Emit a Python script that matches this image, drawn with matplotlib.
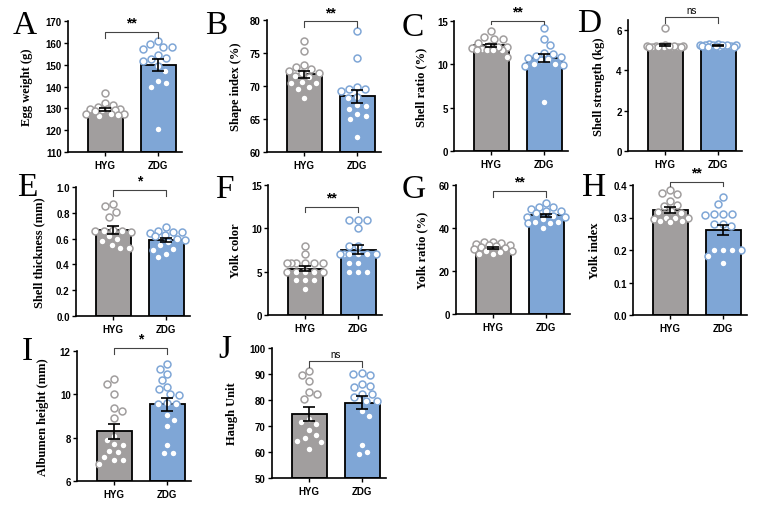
import numpy as np
import matplotlib
matplotlib.use('Agg')
import matplotlib.pyplot as plt
from matplotlib.ticker import FormatStrFormatter

groups = ["HYG", "ZDG"]

# individual eggs
hyg_egg_weight = [137, 132.5, 131.5, 130.5, 129.5, 129.5, 129.8, 129.3, 129.2, 127.5, 127.2, 127.6, 127, 126.3, 129]
zdg_egg_weight = [120.5, 140, 141.5, 142.5, 147, 149.5, 151.5, 152.5, 153, 154.5, 157, 158, 158, 159.5, 161]
hyg_shape_index = [76.8, 75.3, 73.2, 72.9, 72.5, 72.2, 72.0, 71.9, 71.5, 71.3, 70.6, 70.5, 70.4, 69.8, 69.5, 68.2]
zdg_shape_index = [78.4, 74.2, 69.9, 69.6, 69.5, 69.2, 68.4, 68.2, 67.1, 67.0, 66.5, 65.7, 65.5, 65.0, 62.3]
hyg_shell_ratio = [13.8, 13.2, 12.9, 12.9, 12.5, 12.0, 11.8, 11.7, 12.1, 12.0, 11.9, 11.7, 11.6, 11.7, 10.9]
zdg_shell_ratio = [14.2, 12.9, 12.2, 11.3, 11.2, 11.0, 10.9, 10.7, 10.6, 10.5, 10.0, 10.0, 9.9, 9.8, 5.7]
hyg_shell_strength = [6.1, 5.25, 5.22, 5.2, 5.2, 5.18, 5.18, 5.17, 5.15, 5.15, 5.2, 5.22, 5.19, 5.16, 5.18]
zdg_shell_strength = [5.3, 5.3, 5.28, 5.27, 5.25, 5.25, 5.22, 5.2, 5.2, 5.18, 5.17, 5.15, 5.28, 5.24, 5.21]
hyg_shell_thickness = [0.87, 0.85, 0.81, 0.77, 0.67, 0.66, 0.66, 0.66, 0.65, 0.62, 0.60, 0.58, 0.55, 0.53, 0.53]
zdg_shell_thickness = [0.69, 0.66, 0.65, 0.65, 0.64, 0.63, 0.62, 0.60, 0.59, 0.57, 0.55, 0.52, 0.51, 0.48, 0.46]
hyg_yolk_color = [8, 7, 6, 6, 6, 6, 6, 6, 5, 5, 5, 5, 5, 4, 4, 4, 3]
zdg_yolk_color = [11, 11, 11, 10, 8, 8, 7, 7, 7, 7, 7, 7, 6, 6, 5, 5, 5]
hyg_yolk_ratio = [33.6, 33.3, 32.8, 32.5, 32.2, 31.9, 31.5, 31.2, 30.8, 30.2, 29.5, 29.2, 29.0, 28.0, 27.8]
zdg_yolk_ratio = [51.8, 49.8, 49.6, 48.7, 48.0, 47.8, 47.2, 45.5, 45.3, 45.0, 44.2, 43.0, 42.6, 42.4, 42.2, 40.2]
hyg_yolk_index = [0.385, 0.375, 0.372, 0.352, 0.338, 0.335, 0.32, 0.318, 0.315, 0.30, 0.30, 0.298, 0.296, 0.29, 0.288, 0.286]
zdg_yolk_index = [0.362, 0.342, 0.31, 0.31, 0.31, 0.308, 0.28, 0.28, 0.275, 0.2, 0.2, 0.2, 0.2, 0.183, 0.16]
hyg_albumen = [10.7, 10.5, 10.0, 9.35, 9.25, 8.9, 8.1, 7.9, 7.7, 7.65, 7.4, 7.35, 7.1, 6.95, 6.95, 6.8]
zdg_albumen = [11.4, 11.15, 10.95, 10.65, 10.35, 10.25, 10.0, 9.95, 9.6, 9.55, 9.55, 9.05, 8.8, 8.55, 7.65, 7.3, 7.3]
hyg_haugh = [91.2, 89.5, 87.3, 83.1, 82.4, 80.5, 72.8, 71.5, 70.9, 68.3, 66.4, 65.4, 64.2, 63.8, 61.3]
zdg_haugh = [90.4, 89.7, 90.1, 86, 85, 85.3, 82.2, 82.4, 81.2, 79.6, 79.6, 75.8, 73.8, 62.6, 60, 59.1]

letters = ["A", "B", "C", "D", "E", "F", "G", "H", "I", "J"]
ylabels = ["Egg weight (g)", "Shape index (%)", "Shell ratio (%)", "Shell strength (kg)",
           "Shell thickness (mm)", "Yolk color", "Yolk ratio (%)", "Yolk index",
           "Albumen height (mm)", "Haugh Unit"]
signif = ["**", "**", "**", "ns", "*", "**", "**", "**", "*", "ns"]

GREY = "#a19e9e"
BLUE = "#7fa6d6"

# layout in pixels: (left, top, bottom, ylabel offset, letter x, letter y)
W, H = 767, 506
panels = [
    (hyg_egg_weight, zdg_egg_weight, (110, 170), np.arange(110, 171, 10), "%d", (165, 162), (68, 22, 153, 35, 13, 10)),
    (hyg_shape_index, zdg_shape_index, (60, 80), np.arange(60, 81, 5), "%d", (79.8, 78.9), (267, 21, 153, 25, 205, 10)),
    (hyg_shell_ratio, zdg_shell_ratio, (0, 15), [0, 5, 10, 15], "%d", (15.0, 14.6), (454, 22, 152, 27, 402, 12)),
    (hyg_shell_strength, zdg_shell_strength, (0, 6.5), [0, 2, 4, 6], "%d", (6.65, 6.35), (628, 21, 152, 23, 577, 8)),
    (hyg_shell_thickness, zdg_shell_thickness, (0, 1.0), np.arange(0, 1.01, 0.2), "%.1f", (0.98, 0.93), (76, 188, 317, 31, 17, 173)),
    (hyg_yolk_color, zdg_yolk_color, (0, 15), [0, 5, 10, 15], "%d", (12.5, 11.9), (268, 186, 316, 26, 215, 175)),
    (hyg_yolk_ratio, zdg_yolk_ratio, (0, 60), [0, 20, 40, 60], "%d", (57.2, 54.4), (456, 186, 315, 28, 402, 175)),
    (hyg_yolk_index, zdg_yolk_index, (0, 0.4), np.arange(0, 0.41, 0.1), "%.1f", (0.41, 0.397), (633, 186, 316, 32, 582, 172)),
    (hyg_albumen, zdg_albumen, (6, 12), [6, 8, 10, 12], "%d", (12.14, 11.86), (77, 352, 482, 28, 22, 337)),
    (hyg_haugh, zdg_haugh, (50, 100), np.arange(50, 101, 10), "%d", (95, 92.7), (272, 349, 479, 34, 218, 335)),
]

XPX = 53.0          # pixels between the two bars
XLIM = (-0.7, 1.45)
MS = 5.0
DIAM = MS * 100 / 72 + 1.2


def swarm(values, ypx):
    # simple beeswarm: keep points inside the bar, avoid overlap where possible
    grid = np.linspace(-19, 19, 39)
    placed = []
    offs = np.zeros(len(values))
    order = np.argsort(values)[::-1]
    for k, i in enumerate(order):
        yp = values[i] * ypx
        if not placed:
            offs[i] = 0
        else:
            pp = np.array(placed)
            d = np.sqrt((grid[:, None] - pp[None, :, 0]) ** 2 + (yp - pp[None, :, 1]) ** 2).min(axis=1)
            ok = d >= DIAM
            if ok.any():
                key = np.abs(grid) + (0.01 * grid if k % 2 else -0.01 * grid)
                key[~ok] = 1e9
                offs[i] = grid[np.argmin(key)]
            else:
                offs[i] = grid[np.argmax(d)]
        placed.append((offs[i], yp))
    return offs / XPX


fig = plt.figure(figsize=(W / 100, H / 100), dpi=100)

for n, (hyg, zdg, ylim, yticks, fmt, br, lay) in enumerate(panels):
    left, top, bottom, yoff, lx, ly = lay
    wpx = XPX * (XLIM[1] - XLIM[0])
    ax = fig.add_axes([left / W, (H - bottom) / H, wpx / W, (bottom - top) / H])
    ypx = (bottom - top) / (ylim[1] - ylim[0])

    for i, (vals, col) in enumerate(zip([hyg, zdg], [GREY, BLUE])):
        vals = np.array(vals, dtype=float)
        mean = vals.mean()
        sem = vals.std(ddof=1) / np.sqrt(len(vals))
        ax.bar(i, mean - ylim[0], bottom=ylim[0], width=0.66, color=col,
               edgecolor="black", linewidth=1.3, zorder=1)
        xs = i + swarm(vals, ypx)
        ax.plot(xs, vals, "o", ms=MS, mfc="white", mec=col, mew=1.1,
                zorder=2, clip_on=False, linestyle="none")
        ax.errorbar(i, mean, yerr=sem, color="black", lw=1.2, capsize=4.5,
                    capthick=1.2, zorder=3)

    ax.set_xlim(*XLIM)
    ax.set_ylim(*ylim)
    ax.set_yticks(yticks)
    ax.yaxis.set_major_formatter(FormatStrFormatter(fmt))
    ax.set_xticks([0, 1])
    ax.set_xticklabels(groups)
    for s in ["top", "right"]:
        ax.spines[s].set_visible(False)
    for s in ["left", "bottom"]:
        ax.spines[s].set_linewidth(1.2)
    ax.tick_params(direction="out", length=3, width=1, pad=1.5)
    for lab in ax.get_xticklabels() + ax.get_yticklabels():
        lab.set_fontfamily("Liberation Sans")
        lab.set_fontweight("bold")
        lab.set_fontsize(7)
    ax.tick_params(axis="x", pad=3)
    ax.set_ylabel(ylabels[n], family="Liberation Serif", fontweight="bold", fontsize=9)
    ax.yaxis.set_label_coords(-yoff / wpx, 0.5)

    # significance bracket
    yl, yd = br
    ax.plot([0, 0, 1, 1], [yd, yl, yl, yd], color="#444444", lw=0.8, clip_on=False)
    if signif[n] == "ns":
        ax.annotate("ns", (0.5, yl), xytext=(0, 1.5), textcoords="offset points",
                    ha="center", va="bottom", fontsize=7, family="Liberation Sans",
                    annotation_clip=False)
    else:
        ax.annotate(signif[n], (0.5, yl), xytext=(0, 1.5), textcoords="offset points",
                    ha="center", va="bottom", fontsize=10, fontweight="bold",
                    family="Liberation Sans", annotation_clip=False)

    fig.text(lx / W, 1 - ly / H, letters[n], family="Liberation Serif",
             fontsize=24, ha="left", va="top")

fig.savefig("out.png", dpi=100, facecolor="white")
